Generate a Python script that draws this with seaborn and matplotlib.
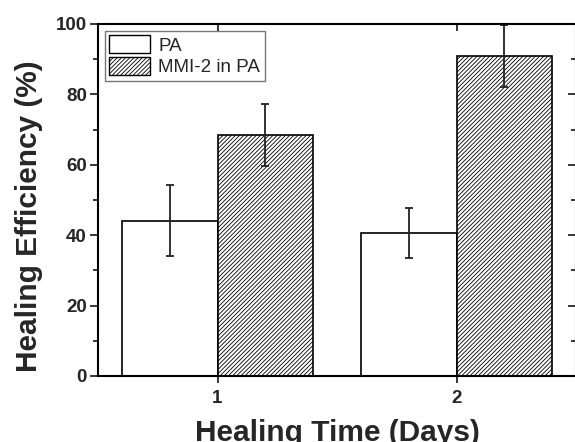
"""
plot.py – Healing efficiency vs healing time (PA vs MMI-2 in PA)
"""

import pandas as pd
import matplotlib
matplotlib.use("Agg")
import matplotlib.pyplot as plt
from matplotlib.patches import Patch
from matplotlib.ticker import MultipleLocator
import seaborn as sns


# Datos
days = ["1", "2"]
groups = ["PA", "MMI-2 in PA"]
pa_eff = [44.1, 40.6]
pa_err = [10.1, 7.0]
mmi_eff = [68.5, 90.9]
mmi_err = [8.8, 8.7]

HATCH = "////////"


def build_frame():
    rows = []
    for d, v in zip(days, pa_eff):
        rows.append({"day": d, "group": groups[0], "eff": v})
    for d, v in zip(days, mmi_eff):
        rows.append({"day": d, "group": groups[1], "eff": v})
    return pd.DataFrame(rows)


def run():
    sns.set_theme(style="ticks")
    plt.rcParams["font.family"] = ["Liberation Sans", "DejaVu Sans"]
    plt.rcParams["hatch.linewidth"] = 0.6

    df = build_frame()

    fig = plt.figure(figsize=(5.75, 4.42), dpi=100)
    ax = fig.add_axes([98 / 575, 66 / 442, 478 / 575, 352 / 442])

    sns.barplot(data=df, x="day", y="eff", hue="group", order=days,
                hue_order=groups, palette=["white", "white"], errorbar=None,
                width=0.8, edgecolor="black", linewidth=1.2, saturation=1,
                ax=ax, legend=False)

    # Rayado y barras de error sobre los rectángulos de seaborn
    n = len(days)
    errs = pa_err + mmi_err
    for i, p in enumerate(ax.patches[:2 * n]):
        if i >= n:
            p.set_hatch(HATCH)
        cx = p.get_x() + p.get_width() / 2
        ax.errorbar(cx, p.get_height(), yerr=errs[i], color="#222222",
                    elinewidth=1.3, capsize=3, capthick=1.3, fmt="none")

    # Leyenda manual
    handles = [Patch(facecolor="white", edgecolor="black", linewidth=1.0),
               Patch(facecolor="white", edgecolor="black", linewidth=1.0,
                     hatch=HATCH)]
    leg = ax.legend(handles, groups, loc="upper left", fontsize=13.5,
                    frameon=True, fancybox=False, handlelength=2.15,
                    handleheight=1.1, handletextpad=0.45, labelspacing=0.12,
                    borderpad=0.25, borderaxespad=0.35)
    leg.get_frame().set_edgecolor("#555555")
    leg.get_frame().set_linewidth(1.0)

    # Ejes
    ax.set_xlim(-0.5, 1.5)
    ax.set_ylim(0, 100)
    ax.yaxis.set_major_locator(MultipleLocator(20))
    ax.yaxis.set_minor_locator(MultipleLocator(10))
    for s in ax.spines.values():
        s.set_linewidth(1.5)
        s.set_color("black")
        s.set_visible(True)

    ax.tick_params(axis="y", which="major", direction="out", length=6,
                   width=1.3, labelsize=13.5, pad=2, right=True)
    ax.tick_params(axis="y", which="minor", direction="out", length=3.5,
                   width=1.3, left=True, right=True)
    ax.tick_params(axis="x", which="major", direction="out", length=5,
                   width=1.3, labelsize=13.5, pad=5, top=True)
    for lab in ax.get_xticklabels() + ax.get_yticklabels():
        lab.set_fontweight("bold")

    # Ticks espejo (derecha y arriba) hacia adentro
    for t in ax.yaxis.get_major_ticks() + ax.yaxis.get_minor_ticks():
        t.tick2line.set_marker(matplotlib.lines.TICKLEFT)
    for t in ax.xaxis.get_major_ticks():
        t.tick2line.set_marker(matplotlib.lines.TICKDOWN)

    ax.set_xlabel("Healing Time (Days)", fontsize=21.5, fontweight="bold",
                  labelpad=9)
    ax.set_ylabel("Healing Efficiency (%)", fontsize=21.5, fontweight="bold",
                  labelpad=9, y=0.455)

    fig.savefig("out.png", dpi=100, facecolor="white")
    plt.close(fig)


if __name__ == "__main__":
    run()
